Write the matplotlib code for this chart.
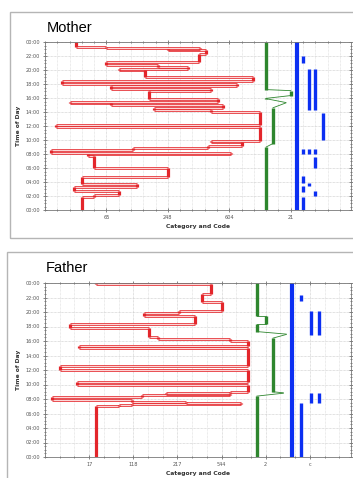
import matplotlib
matplotlib.use("Agg")
import matplotlib.pyplot as plt
import matplotlib.patheffects as pe
from matplotlib.patches import Rectangle
from matplotlib.ticker import MultipleLocator

# ---- Mother ----
# red trace: category held from each change time until the next one
mother_red_t = [0.0, 1.9, 2.2, 2.65, 3.3, 3.65, 4.75, 6.05, 7.7, 7.95, 8.2, 8.55, 8.8, 9.2,
                9.75, 9.85, 11.9, 12.15, 13.95, 14.3, 14.6, 15.0, 15.35, 15.5, 15.9, 16.95,
                17.3, 17.65, 17.95, 18.5, 18.95, 20.0, 20.15, 20.4, 20.75, 21.2, 22.3, 22.9,
                23.05, 23.2, 23.3]
mother_red_c = [3.0, 4.0, 6.0, 2.4, 7.5, 3.0, 10.0, 4.0, 3.5, 15.1, 0.5, 7.2, 13.3, 16.0,
                13.5, 17.5, 0.9, 17.5, 13.5, 8.9, 14.5, 5.4, 2.0, 14.1, 8.5, 13.5,
                5.4, 15.6, 1.35, 16.9, 8.1, 6.0, 11.6, 9.2, 5.0, 12.5, 13.1, 10.0,
                12.6, 5.0, 2.5]
# green: dwell segments (category, start, end)
mother_green_c = [18.0, 18.55, 19.6, 18.0, 20.0, 18.0]
mother_green_t0 = [0.0, 9.5, 15.3, 15.9, 16.35, 17.2]
mother_green_t1 = [9.0, 14.6, 15.35, 15.95, 17.05, 24.0]
# blue: dwell segments
mother_blue_c = [20.5, 21.0, 21.5, 22.0, 22.6, 21.0, 21.5, 22.0, 22.0, 21.0, 21.5, 21.0, 22.0, 21.0]
mother_blue_t0 = [0.0, 21.0, 14.3, 14.3, 10.0, 8.0, 8.0, 8.0, 5.95, 3.9, 3.5, 2.6, 2.0, 0.0]
mother_blue_t1 = [24.0, 22.0, 20.2, 20.2, 13.9, 8.7, 8.7, 8.7, 7.6, 4.9, 3.8, 3.4, 2.7, 1.9]
mother_ticks = [5, 10, 15, 20]
mother_labels = ["65", "248", "604", "21"]

# ---- Father ----
father_red_t = [0.0, 7.05, 7.15, 7.3, 7.45, 7.55, 7.85, 8.25, 8.6, 8.75, 8.85, 9.0, 10.0,
                10.3, 12.0, 12.5, 15.1, 15.3, 16.0, 16.3, 16.6, 17.8, 18.3, 19.4, 19.85,
                20.1, 21.4, 22.5, 23.9]
father_red_c = [3.5, 5.0, 5.9, 13.3, 9.6, 5.9, 0.45, 6.6, 12.6, 8.2, 12.6, 13.8, 2.2,
                13.8, 1.0, 13.8, 2.3, 13.8, 12.6, 7.7, 7.1, 1.7, 10.2, 6.7, 9.1,
                12.0, 10.7, 11.3, 3.5]
father_green_c = [14.4, 16.2, 15.5, 16.4, 14.4, 15.0, 14.4]
father_green_t0 = [0.0, 8.8, 9.0, 16.9, 17.3, 18.4, 19.4]
father_green_t1 = [8.4, 8.85, 16.4, 16.95, 18.4, 19.4, 24.0]
father_blue_c = [16.8, 17.4, 18.05, 18.6, 17.4, 18.05, 18.6]
father_blue_t0 = [0.0, 21.5, 16.8, 16.8, 0.0, 7.4, 7.4]
father_blue_t1 = [24.0, 22.4, 20.2, 20.2, 7.4, 8.8, 8.8]
father_ticks = [3, 6, 9, 12, 15, 18]
father_labels = ["17", "118", "217", "544", "2", "c"]

hour_ticks = list(range(0, 25, 2))
hour_labels = ["%02d:00" % (h % 24) for h in hour_ticks]

RED = "#e3262b"
PINK = "#fcd6d6"
GREEN = "#2e862e"
BLUE = "#0b2ff2"

W, H = 353, 478
fig = plt.figure(figsize=(W / 100, H / 100), dpi=100)


def px_axes(l, t, r, b):
    return fig.add_axes([l / W, 1 - b / H, (r - l) / W, (b - t) / H])


def draw_panel(ax, red_t, red_c, g_c, g_t0, g_t1, b_c, b_t0, b_t1, ticks, labels, xmax):
    ax.set_xlim(0, xmax)
    ax.set_ylim(0, 24)
    # grid
    ax.xaxis.set_minor_locator(MultipleLocator(1))
    ax.yaxis.set_minor_locator(MultipleLocator(0.5))
    ax.grid(True, which="major", color="#c4c4c4", linestyle=(0, (1, 1)), linewidth=0.5)
    ax.grid(True, which="minor", axis="x", color="#d8d8d8", linestyle=(0, (1, 1)), linewidth=0.5)
    ax.set_axisbelow(True)

    # red trace: horizontal transitions with outline, vertical dwells solid
    ends = red_t[1:] + [24.0]
    for i in range(1, len(red_c)):
        ax.plot([red_c[i - 1], red_c[i]], [red_t[i], red_t[i]], color=PINK, lw=0.8,
                solid_capstyle="butt",
                path_effects=[pe.Stroke(linewidth=1.9, foreground=RED), pe.Normal()])
    for c, t0, t1 in zip(red_c, red_t, ends):
        ax.plot([c, c], [t0, t1], color=RED, lw=2.3, solid_capstyle="butt")

    # green: thick dwell segments, thin connectors
    for i in range(len(g_c) - 1):
        ax.plot([g_c[i], g_c[i + 1]], [g_t1[i], g_t0[i + 1]], color=GREEN, lw=0.6)
    for c, t0, t1 in zip(g_c, g_t0, g_t1):
        ax.plot([c, c], [t0, t1], color=GREEN, lw=2.4, solid_capstyle="butt")

    # blue segments
    for k, (c, t0, t1) in enumerate(zip(b_c, b_t0, b_t1)):
        ax.plot([c, c], [t0, t1], color=BLUE, lw=3.0 if k == 0 else 2.4, solid_capstyle="butt")

    ax.set_xticks(ticks)
    ax.set_xticklabels(labels)
    ax.set_yticks(hour_ticks)
    ax.set_yticklabels(hour_labels)
    ax.tick_params(which="both", direction="inout", colors="#555555", width=0.5,
                   labelsize=3.6, top=True, right=True, pad=2)
    ax.tick_params(which="major", length=3)
    ax.tick_params(which="minor", length=2)
    for s in ax.spines.values():
        s.set_color("#777777")
        s.set_linewidth(0.6)
    ax.set_xlabel("Category and Code", fontsize=4.3, fontweight="bold", color="#333333", labelpad=3)
    ax.set_ylabel("Time of Day", fontsize=4.3, fontweight="bold", color="#333333", labelpad=3)


ax1 = px_axes(45, 42, 351, 210)
draw_panel(ax1, mother_red_t, mother_red_c, mother_green_c, mother_green_t0, mother_green_t1,
           mother_blue_c, mother_blue_t0, mother_blue_t1, mother_ticks, mother_labels, 24.9)

ax2 = px_axes(45, 283, 351, 457)
draw_panel(ax2, father_red_t, father_red_c, father_green_c, father_green_t0, father_green_t1,
           father_blue_c, father_blue_t0, father_blue_t1, father_ticks, father_labels, 20.8)

# panel frames and titles
fig.add_artist(Rectangle((10 / W, 1 - 238 / H), 380 / W, 226 / H, transform=fig.transFigure,
                         fill=False, edgecolor="#b5b5b5", linewidth=1.0))
fig.add_artist(Rectangle((7 / W, -0.1), 380 / W, 0.1 + 1 - 252 / H, transform=fig.transFigure,
                         fill=False, edgecolor="#b5b5b5", linewidth=1.0))
fig.text(47 / W, 1 - 28 / H, "Mother", fontsize=10.5, family="Liberation Sans", va="center")
fig.text(46 / W, 1 - 268 / H, "Father", fontsize=10.5, family="Liberation Sans", va="center")

fig.savefig("out.png", dpi=100)
